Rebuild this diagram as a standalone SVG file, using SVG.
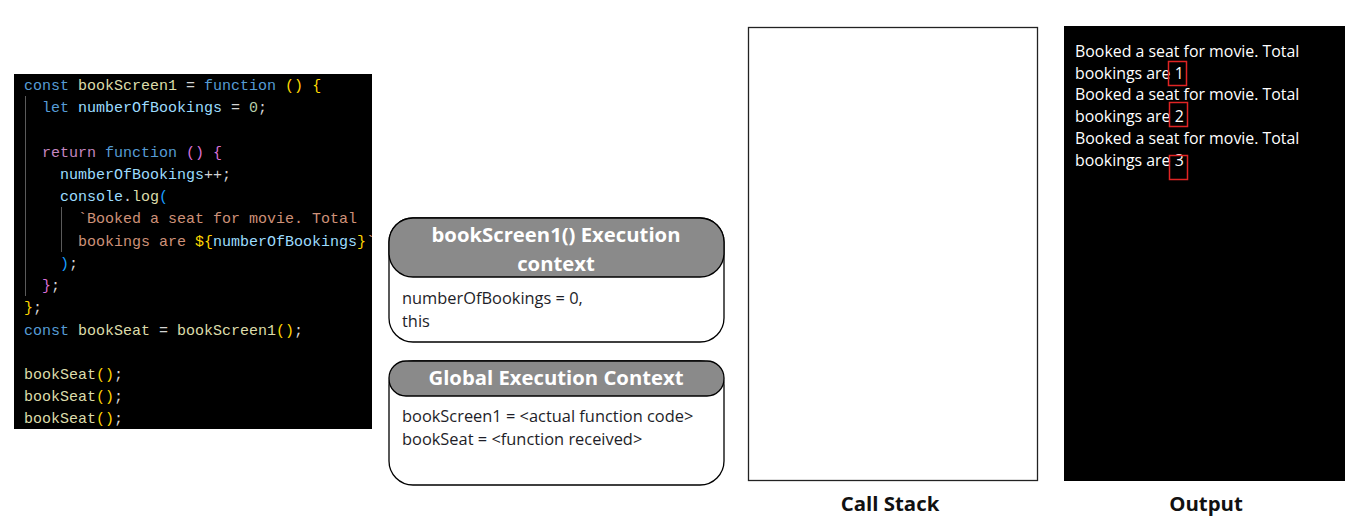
<svg xmlns="http://www.w3.org/2000/svg" width="1363" height="527" viewBox="0 0 1363 527">
<style>
.code{font-family:"Liberation Mono",monospace;font-size:15px;fill:#d4d4d4;white-space:pre}
.k{fill:#569cd6}.f{fill:#dcdcaa}.v{fill:#9cdcfe}.n{fill:#b5cea8}.p{fill:#c586c0}
.y{fill:#ffd700}.m{fill:#da70d6}.b{fill:#179fff}.s{fill:#ce9178}
.guide{stroke:#5a5a5a;stroke-width:1}
.ctx{fill:#fff;stroke:#000;stroke-width:1.3}
.hdr{fill:#8a8a8a;stroke:#000;stroke-width:1.3}
.ht{font-family:"Open Sans",sans-serif;font-weight:700;font-size:20.3px;fill:#fff;text-anchor:middle}
.bt{font-family:"Open Sans",sans-serif;font-size:16.4px;fill:#1e1e28}
.ot{font-family:"Open Sans",sans-serif;font-size:15.9px;fill:#fff}
.red{fill:none;stroke:#e02424;stroke-width:1.5}
.lbl{font-family:"Open Sans",sans-serif;font-weight:700;font-size:20.4px;fill:#111;text-anchor:middle}
</style>
<defs>
<clipPath id="codeclip"><rect x="14" y="74" width="358" height="355"/></clipPath>
</defs>
<g id="code">
<rect x="14" y="74" width="358" height="355" fill="#000"/>
<g clip-path="url(#codeclip)">
<line class="guide" x1="25.5" y1="96" x2="25.5" y2="296"/>
<line class="guide" x1="61.5" y1="207" x2="61.5" y2="252"/>
<text class="code" y="90"><tspan x="24" class="k">const</tspan><tspan> </tspan><tspan class="f">bookScreen1</tspan><tspan> = </tspan><tspan class="k">function</tspan><tspan> </tspan><tspan class="y">()</tspan><tspan> </tspan><tspan class="y">{</tspan></text>
<text class="code" y="112"><tspan x="42" class="k">let</tspan><tspan> </tspan><tspan class="v">numberOfBookings</tspan><tspan> = </tspan><tspan class="n">0</tspan><tspan>;</tspan></text>
<text class="code" y="157"><tspan x="42" class="p">return</tspan><tspan> </tspan><tspan class="k">function</tspan><tspan> </tspan><tspan class="m">()</tspan><tspan> </tspan><tspan class="m">{</tspan></text>
<text class="code" y="179"><tspan x="60" class="v">numberOfBookings</tspan><tspan>++;</tspan></text>
<text class="code" y="201"><tspan x="60" class="v">console</tspan><tspan>.</tspan><tspan class="f">log</tspan><tspan class="b">(</tspan></text>
<text class="code" y="223"><tspan x="78" class="s">`Booked a seat for movie. Total</tspan></text>
<text class="code" y="246"><tspan x="78" class="s">bookings are </tspan><tspan class="y">${</tspan><tspan class="v">numberOfBookings</tspan><tspan class="y">}</tspan><tspan class="s">`</tspan></text>
<text class="code" y="268"><tspan x="60" class="b">)</tspan><tspan>;</tspan></text>
<text class="code" y="290"><tspan x="42" class="m">}</tspan><tspan>;</tspan></text>
<text class="code" y="312"><tspan x="24" class="y">}</tspan><tspan>;</tspan></text>
<text class="code" y="335"><tspan x="24" class="k">const</tspan><tspan> </tspan><tspan class="f">bookSeat</tspan><tspan> = </tspan><tspan class="f">bookScreen1</tspan><tspan class="y">()</tspan><tspan>;</tspan></text>
<text class="code" y="379"><tspan x="24" class="f">bookSeat</tspan><tspan class="y">()</tspan><tspan>;</tspan></text>
<text class="code" y="401"><tspan x="24" class="f">bookSeat</tspan><tspan class="y">()</tspan><tspan>;</tspan></text>
<text class="code" y="423"><tspan x="24" class="f">bookSeat</tspan><tspan class="y">()</tspan><tspan>;</tspan></text>
</g>
</g>
<g id="fn-context">
<rect class="ctx" x="389" y="218" width="335" height="124" rx="24"/>
<rect class="hdr" x="389" y="218" width="335" height="59" rx="24"/>
<text class="ht" x="556" y="242">bookScreen1() Execution</text>
<text class="ht" x="556" y="271">context</text>
<text class="bt" x="402" y="304">numberOfBookings = 0,</text>
<text class="bt" x="402" y="327">this</text>
</g>
<g id="global-context">
<rect class="ctx" x="389" y="361" width="335" height="124" rx="24"/>
<rect class="hdr" x="389" y="361" width="335" height="35" rx="17"/>
<text class="ht" x="556" y="385">Global Execution Context</text>
<text class="bt" x="402" y="422">bookScreen1 = &lt;actual function code&gt;</text>
<text class="bt" x="402" y="445">bookSeat = &lt;function received&gt;</text>
</g>
<g id="call-stack">
<rect x="748.5" y="27.5" width="289" height="453" fill="#fff" stroke="#222" stroke-width="1.3"/>
<text class="lbl" x="890" y="511">Call Stack</text>
</g>
<g id="output">
<rect x="1064" y="26" width="281" height="455" fill="#000"/>
<text class="ot" x="1075" y="57">Booked a seat for movie. Total</text>
<text class="ot" x="1075" y="79">bookings are 1</text>
<text class="ot" x="1075" y="100">Booked a seat for movie. Total</text>
<text class="ot" x="1075" y="122">bookings are 2</text>
<text class="ot" x="1075" y="144">Booked a seat for movie. Total</text>
<text class="ot" x="1075" y="166">bookings are 3</text>
<rect class="red" x="1168.5" y="61.5" width="18" height="24"/>
<rect class="red" x="1169.5" y="102.5" width="18" height="24"/>
<rect class="red" x="1169.5" y="155.5" width="18" height="24"/>
<text class="lbl" x="1206" y="511">Output</text>
</g>
</svg>
